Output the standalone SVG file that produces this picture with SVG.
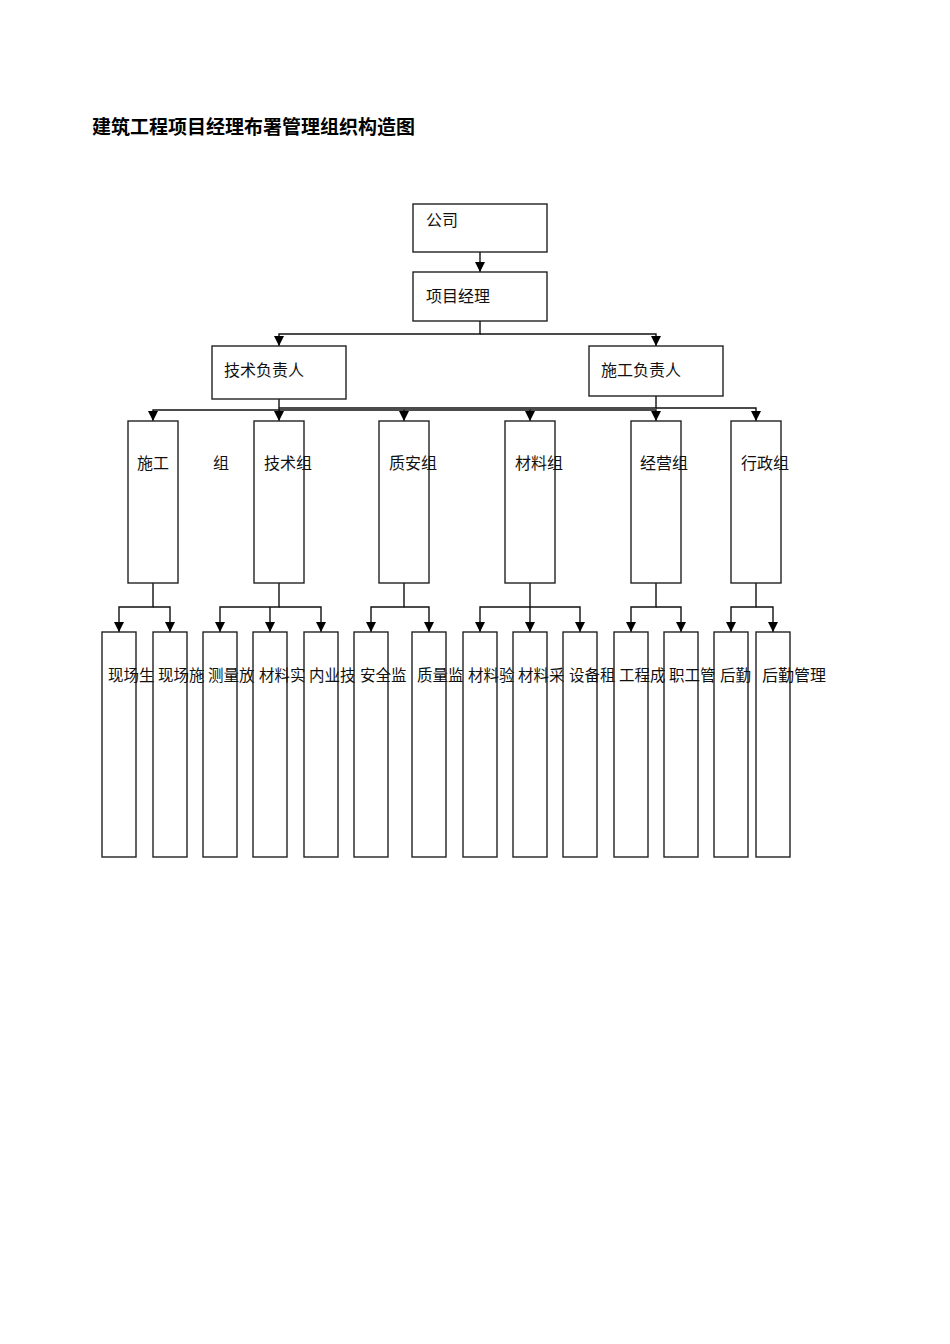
<svg xmlns="http://www.w3.org/2000/svg" width="950" height="1344" viewBox="0 0 950 1344">
<style>
  .box { fill: none; stroke: #222; stroke-width: 1.4; }
  .ln { fill: none; stroke: #111; stroke-width: 1.4; }
  .t { font-family: "Noto Sans CJK SC", "DejaVu Sans", sans-serif; font-size: 16px; fill: #111; }
  .s { font-family: "Noto Sans CJK SC", "DejaVu Sans", sans-serif; font-size: 15.5px; fill: #111; }
  .title { font-family: "Noto Sans CJK SC", "DejaVu Sans", sans-serif; font-size: 19px; font-weight: bold; fill: #000; }
</style>
<defs>
  <marker id="arr" viewBox="0 0 10 10" refX="10" refY="5" markerWidth="10" markerHeight="10" markerUnits="userSpaceOnUse" orient="auto">
    <path d="M0,0 L10,5 L0,10 z" fill="#000"/>
  </marker>
</defs>
<rect width="950" height="1344" fill="#fff"/>
<text class="title" x="92" y="134">建筑工程项目经理布署管理组织构造图</text>

<g id="connectors">
  <line class="ln" x1="480" y1="252" x2="480" y2="272" marker-end="url(#arr)"/>
  <polyline class="ln" points="480,321 480,334 279,334 279,346" marker-end="url(#arr)"/>
  <polyline class="ln" points="480,334 656,334 656,346" marker-end="url(#arr)"/>
  <polyline class="ln" points="279,399 279,410 153,410 153,421" marker-end="url(#arr)"/>
  <line class="ln" x1="279" y1="410" x2="279" y2="421" marker-end="url(#arr)"/>
  <polyline class="ln" points="279,410 404,410 404,421" marker-end="url(#arr)"/>
  <polyline class="ln" points="404,410 530,410 530,421" marker-end="url(#arr)"/>
  <polyline class="ln" points="530,410 656,410 656,421" marker-end="url(#arr)"/>
  <polyline class="ln" points="656,396 656,408 279,408"/>
  <polyline class="ln" points="656,408 756,408 756,421" marker-end="url(#arr)"/>
  <polyline class="ln" points="153,583 153,607 119,607 119,632" marker-end="url(#arr)"/>
  <polyline class="ln" points="153,607 170,607 170,632" marker-end="url(#arr)"/>
  <polyline class="ln" points="279,583 279,607 220,607 220,632" marker-end="url(#arr)"/>
  <polyline class="ln" points="270,607 270,632" marker-end="url(#arr)"/>
  <polyline class="ln" points="279,607 321,607 321,632" marker-end="url(#arr)"/>
  <polyline class="ln" points="404,583 404,607 371,607 371,632" marker-end="url(#arr)"/>
  <polyline class="ln" points="404,607 429,607 429,632" marker-end="url(#arr)"/>
  <polyline class="ln" points="530,583 530,607 480,607 480,632" marker-end="url(#arr)"/>
  <line class="ln" x1="530" y1="607" x2="530" y2="632" marker-end="url(#arr)"/>
  <polyline class="ln" points="530,607 580,607 580,632" marker-end="url(#arr)"/>
  <polyline class="ln" points="656,583 656,607 631,607 631,632" marker-end="url(#arr)"/>
  <polyline class="ln" points="656,607 681,607 681,632" marker-end="url(#arr)"/>
  <polyline class="ln" points="756,583 756,607 731,607 731,632" marker-end="url(#arr)"/>
  <polyline class="ln" points="756,607 773,607 773,632" marker-end="url(#arr)"/>
</g>

<g id="n-company"><rect class="box" x="413" y="204" width="134" height="48"/><text class="t" x="426" y="226">公司</text></g>
<g id="n-pm"><rect class="box" x="413" y="272" width="134" height="49"/><text class="t" x="426" y="302">项目经理</text></g>
<g id="n-tech-lead"><rect class="box" x="212" y="346" width="134" height="53"/><text class="t" x="224" y="376">技术负责人</text></g>
<g id="n-cons-lead"><rect class="box" x="589" y="346" width="134" height="50"/><text class="t" x="601" y="376">施工负责人</text></g>

<g id="g-cons"><rect class="box" x="128" y="421" width="50" height="162"/><text class="t" x="137" y="469">施工</text><text class="t" x="213" y="469">组</text></g>
<g id="g-tech"><rect class="box" x="254" y="421" width="50" height="162"/><text class="t" x="264" y="469">技术组</text></g>
<g id="g-qs"><rect class="box" x="379" y="421" width="50" height="162"/><text class="t" x="389" y="469">质安组</text></g>
<g id="g-mat"><rect class="box" x="505" y="421" width="50" height="162"/><text class="t" x="515" y="469">材料组</text></g>
<g id="g-biz"><rect class="box" x="631" y="421" width="50" height="162"/><text class="t" x="640" y="469">经营组</text></g>
<g id="g-adm"><rect class="box" x="731" y="421" width="50" height="162"/><text class="t" x="741" y="469">行政组</text></g>

<g id="c1"><rect class="box" x="102" y="632" width="34" height="225"/><text class="s" x="108" y="681">现场生</text></g>
<g id="c2"><rect class="box" x="153" y="632" width="34" height="225"/><text class="s" x="158" y="681">现场施</text></g>
<g id="c3"><rect class="box" x="203" y="632" width="34" height="225"/><text class="s" x="208" y="681">测量放</text></g>
<g id="c4"><rect class="box" x="253" y="632" width="34" height="225"/><text class="s" x="259" y="681">材料实</text></g>
<g id="c5"><rect class="box" x="304" y="632" width="34" height="225"/><text class="s" x="309" y="681">内业技</text></g>
<g id="c6"><rect class="box" x="354" y="632" width="34" height="225"/><text class="s" x="360" y="681">安全监</text></g>
<g id="c7"><rect class="box" x="412" y="632" width="34" height="225"/><text class="s" x="417" y="681">质量监</text></g>
<g id="c8"><rect class="box" x="463" y="632" width="34" height="225"/><text class="s" x="468" y="681">材料验</text></g>
<g id="c9"><rect class="box" x="513" y="632" width="34" height="225"/><text class="s" x="518" y="681">材料采</text></g>
<g id="c10"><rect class="box" x="563" y="632" width="34" height="225"/><text class="s" x="569" y="681">设备租</text></g>
<g id="c11"><rect class="box" x="614" y="632" width="34" height="225"/><text class="s" x="619" y="681">工程成</text></g>
<g id="c12"><rect class="box" x="664" y="632" width="34" height="225"/><text class="s" x="669" y="681">职工管</text></g>
<g id="c13"><rect class="box" x="714" y="632" width="34" height="225"/><text class="s" x="720" y="681">后勤</text></g>
<g id="c14"><rect class="box" x="756" y="632" width="34" height="225"/><text class="t" x="762" y="681">后勤管理</text></g>
</svg>
